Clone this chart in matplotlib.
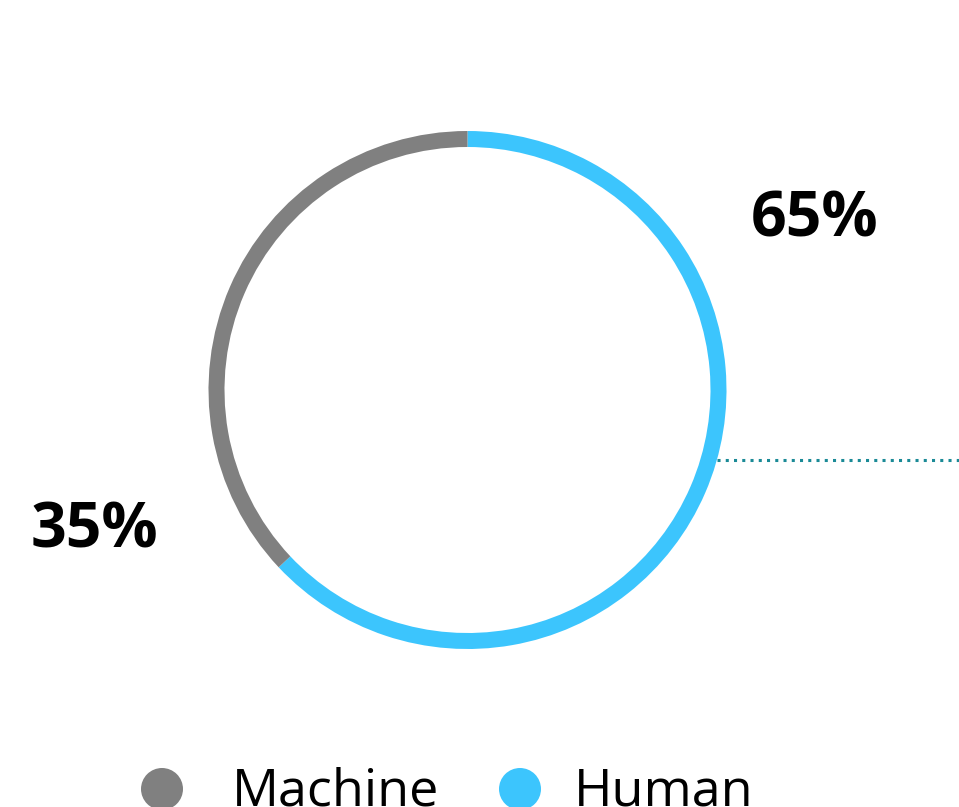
import matplotlib.pyplot as plt
from matplotlib.patches import Circle

# data (ring split as drawn, labels as printed)
labels = ['Human', 'Machine']
ring_values = [63, 37]
label_texts = ['65%', '35%']
colors = ['#3cc5fd', '#808080']
legend_order = ['Machine', 'Human']

plt.rcParams['font.family'] = ['Open Sans', 'DejaVu Sans']

W, H = 959, 807
fig = plt.figure(figsize=(W / 100, H / 100), dpi=100)
ax = fig.add_axes([0, 0, 1, 1])

# ring, drawn in pixel-like coordinates (y up)
cx, cy, r = 467.5, 417, 259
ax.pie(ring_values, colors=colors, startangle=90, counterclock=False,
       center=(cx, cy), radius=r,
       wedgeprops=dict(width=16, linewidth=0))

ax.set_xlim(0, W)
ax.set_ylim(0, H)
ax.set_aspect('equal')
ax.axis('off')

# dotted leader line from the ring to the right edge
ly = 347
lx = cx + (r ** 2 - (ly - cy) ** 2) ** 0.5
ax.plot([lx, W], [ly, ly], color='#1a8a96', lw=2.2,
        linestyle=(0, (1, 1.7)), solid_capstyle='butt')

# percentage labels
ax.text(815, 587, label_texts[0], fontsize=45, fontweight='bold',
        ha='center', va='center')
ax.text(94, 276, label_texts[1], fontsize=45, fontweight='bold',
        ha='center', va='center')

# legend at the bottom (partly cut off)
col = dict(zip(labels, colors))
for name, mx, tx in zip(legend_order, [162, 520], [232, 574]):
    ax.add_patch(Circle((mx, 18), 21, color=col[name], lw=0))
    ax.text(tx, 2, name, fontsize=37.5, ha='left', va='baseline')

fig.savefig('out.png', dpi=100)
